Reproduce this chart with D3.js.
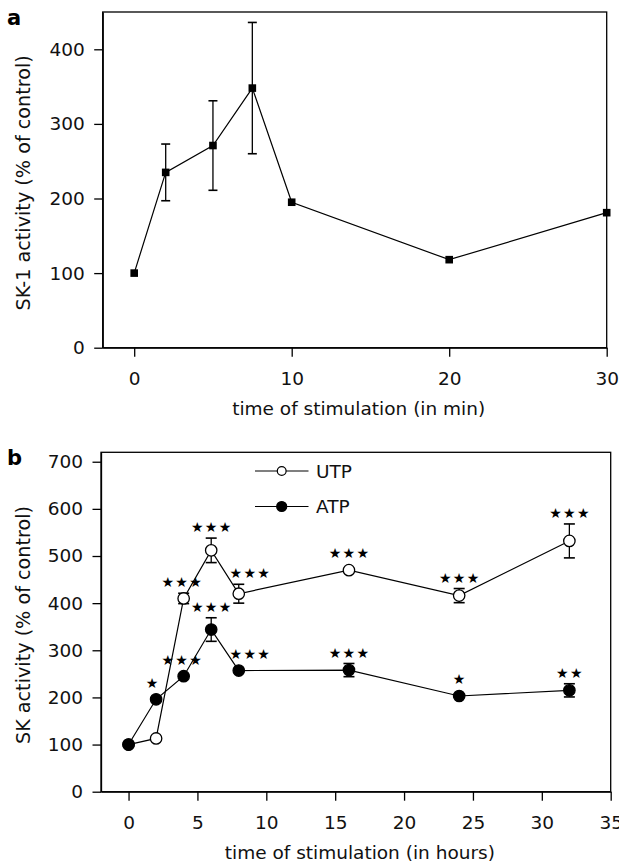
<!DOCTYPE html>
<html><head><meta charset="utf-8">
<script src="https://cdn.jsdelivr.net/npm/d3@7"></script>
<style>body{margin:0;background:#fff}svg{display:block}</style>
</head><body><svg id="c" width="619" height="866"></svg>
<script>
// ---- Panel a data ----
const aTime = [0, 2, 5, 7.5, 10, 20, 30];
const aActivity = [100, 235, 271, 348, 195, 118, 181];
const aError = [0, 38, 60, 88, 0, 0, 0];
const aXTicks = [0, 10, 20, 30];
const aYTicks = [0, 100, 200, 300, 400];

// ---- Panel b data ----
const bTime = [0, 2, 4, 6, 8, 16, 24, 32];
const utpActivity = [100, 113, 410, 512, 420, 470, 416, 532];
const utpError = [0, 0, 11, 26, 20, 0, 15, 36];
const utpStars = ["", "", "***", "***", "***", "***", "***", "***"];
const atpActivity = [100, 196, 245, 344, 257, 258, 203, 215];
const atpError = [0, 0, 0, 25, 0, 14, 0, 14];
const atpStars = ["", "*", "***", "***", "***", "***", "*", "**"];
const bXTicks = [0, 5, 10, 15, 20, 25, 30, 35];
const bYTicks = [0, 100, 200, 300, 400, 500, 600, 700];
const seriesNames = ["UTP", "ATP"];

const FONT = "DejaVu Sans";
const FS = 18.5;
const svg = d3.select("#c");

function frame(L, R, T, B, xDom, yDom, xTicks, yTicks, xTitle, yTitle, letter) {
  const x = d3.scaleLinear().domain(xDom).range([L, R]);
  const y = d3.scaleLinear().domain(yDom).range([B, T]);
  const g = svg.append("g");
  g.append("rect").attr("x", L).attr("y", T).attr("width", R - L).attr("height", B - T)
    .attr("fill", "none").attr("stroke", "#000").attr("stroke-width", 1.3);
  const xa = g.append("g").attr("transform", `translate(0,${B})`)
    .call(d3.axisBottom(x).tickValues(xTicks).tickSize(9).tickSizeOuter(0).tickPadding(15.2));
  const ya = g.append("g").attr("transform", `translate(${L},0)`)
    .call(d3.axisLeft(y).tickValues(yTicks).tickSize(8.5).tickSizeOuter(0).tickPadding(9.5));
  [xa, ya].forEach(a => {
    a.select(".domain").attr("stroke-width", 1.3);
    a.selectAll(".tick line").attr("stroke-width", 1.3);
    a.selectAll("text").attr("font-family", FONT).attr("font-size", FS).attr("fill", "#111");
  });
  g.append("text").attr("x", (L + R) / 2 + 4).attr("y", B + 67.5).attr("text-anchor", "middle")
    .attr("font-family", FONT).attr("font-size", FS).attr("fill", "#111").text(xTitle);
  g.append("text").attr("transform", `translate(29.5,${(T + B) / 2 + 3}) rotate(-90)`)
    .attr("text-anchor", "middle").attr("font-family", FONT).attr("font-size", 19.2)
    .attr("fill", "#111").text(yTitle);
  g.append("text").attr("x", 7).attr("y", T + 13).attr("font-family", FONT)
    .attr("font-weight", "bold").attr("font-size", 21).attr("fill", "#000").text(letter);
  return { x, y, g };
}

function errorBars(g, x, y, xs, ys, es, cap) {
  xs.forEach((t, i) => {
    if (!es[i]) return;
    const cx = x(t), y1 = y(ys[i] - es[i]), y2 = y(ys[i] + es[i]);
    g.append("line").attr("x1", cx).attr("x2", cx).attr("y1", y1).attr("y2", y2)
      .attr("stroke", "#000").attr("stroke-width", 1.3);
    [y1, y2].forEach(yy => g.append("line").attr("x1", cx - cap / 2).attr("x2", cx + cap / 2)
      .attr("y1", yy).attr("y2", yy).attr("stroke", "#000").attr("stroke-width", 1.6));
  });
}

// ---- Panel a ----
{
  const { x, y, g } = frame(102.7, 606.7, 12, 347.7, [-2, 30], [0, 450], aXTicks, aYTicks,
    "time of stimulation (in min)", "SK-1 activity (% of control)", "a");
  const line = d3.line().x((d, i) => x(aTime[i])).y(d => y(d));
  g.append("path").datum(aActivity).attr("d", line).attr("fill", "none")
    .attr("stroke", "#000").attr("stroke-width", 1.2);
  errorBars(g, x, y, aTime, aActivity, aError, 9);
  const s = 7.6;
  g.selectAll("rect.m").data(aActivity).enter().append("rect").attr("class", "m")
    .attr("x", (d, i) => x(aTime[i]) - s / 2).attr("y", d => y(d) - s / 2)
    .attr("width", s).attr("height", s).attr("fill", "#000");
}

// ---- Panel b ----
{
  const { x, y, g } = frame(101, 610.7, 452.3, 791.7, [-2, 35], [0, 720], bXTicks, bYTicks,
    "time of stimulation (in hours)", "SK activity (% of control)", "b");
  const R = 5.7;
  const starDx = { 2: -4, 4: -2, 8: 11 };
  const series = [
    { vals: utpActivity, err: utpError, stars: utpStars, fill: "#fff" },
    { vals: atpActivity, err: atpError, stars: atpStars, fill: "#000" }
  ];
  series.forEach(sr => {
    const line = d3.line().x((d, i) => x(bTime[i])).y(d => y(d));
    g.append("path").datum(sr.vals).attr("d", line).attr("fill", "none")
      .attr("stroke", "#000").attr("stroke-width", 1.2);
    errorBars(g, x, y, bTime, sr.vals, sr.err, 11);
    g.selectAll(null).data(sr.vals).enter().append("circle")
      .attr("cx", (d, i) => x(bTime[i])).attr("cy", d => y(d)).attr("r", R)
      .attr("fill", sr.fill).attr("stroke", "#000").attr("stroke-width", 1.3);
    sr.stars.forEach((st, i) => {
      if (!st) return;
      const top = Math.min(y(sr.vals[i] + sr.err[i]), y(sr.vals[i]) - R);
      g.append("text").attr("x", x(bTime[i]) + (starDx[bTime[i]] || 0) + 0.6).attr("y", top - 11)
        .attr("dy", "0.36em").attr("text-anchor", "middle")
        .attr("font-family", FONT).attr("font-size", 14).attr("letter-spacing", 1.3)
        .attr("fill", "#000").text(st.replace(/\*/g, "\u2605"));
    });
  });
  // legend
  const leg = [{ y: 471, fill: "#fff", r: 4.4 }, { y: 506.5, fill: "#000", r: 5 }];
  leg.forEach((l, i) => {
    g.append("line").attr("x1", 255).attr("x2", 308.5).attr("y1", l.y).attr("y2", l.y)
      .attr("stroke", "#000").attr("stroke-width", 1.2);
    g.append("circle").attr("cx", 281.7).attr("cy", l.y).attr("r", l.r)
      .attr("fill", l.fill).attr("stroke", "#000").attr("stroke-width", 1.2);
    g.append("text").attr("x", 316).attr("y", l.y).attr("dy", "0.36em")
      .attr("font-family", FONT).attr("font-size", FS).attr("fill", "#111").text(seriesNames[i]);
  });
}
</script></body></html>
